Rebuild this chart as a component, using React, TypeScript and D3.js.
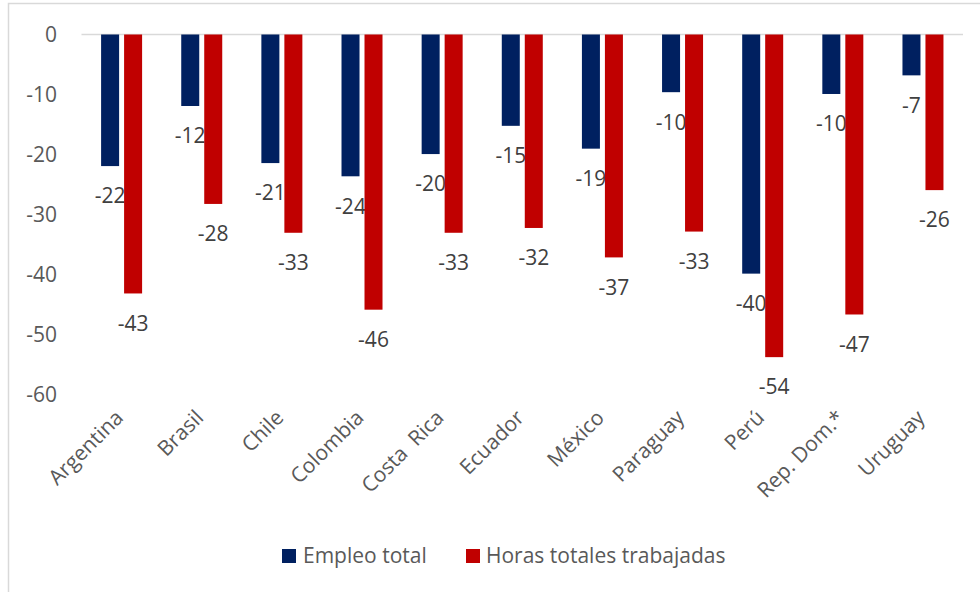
import React from "react";
import * as d3 from "d3";

const categories = ["Argentina", "Brasil", "Chile", "Colombia", "Costa  Rica", "Ecuador", "México", "Paraguay", "Perú", "Rep. Dom.*", "Uruguay"];
const seriesNames = ["Empleo total", "Horas totales trabajadas"];
const empleoTotal = [-21.9, -11.9, -21.4, -23.6, -19.9, -15.2, -19.0, -9.6, -39.8, -9.9, -6.8];
const horasTotales = [-43.1, -28.2, -33.0, -45.8, -33.0, -32.2, -37.1, -32.8, -53.7, -46.6, -25.9];
const yTicks = [0, -10, -20, -30, -40, -50, -60];
const colors = ["#002060", "#C00000"];

const W = 980;
const H = 592;
const FONT = "'Open Sans', 'Liberation Sans', sans-serif";

const locale = d3.formatLocale({ decimal: ".", thousands: ",", grouping: [3], currency: ["", ""], minus: "-" });
const fmt = locale.format(".0f");

export default function App() {
  const y = d3.scaleLinear().domain([0, -60]).range([34.5, 395]);
  const x0 = d3.scaleBand<string>().domain(categories).range([81.5, 963]).paddingInner(0).paddingOuter(0);
  const x1 = d3.scaleBand<string>().domain(seriesNames).range([19.6, 60.6]).paddingInner(0.217).paddingOuter(0);
  const series = [empleoTotal, horasTotales];

  return (
    <svg width={W} height={H} style={{ position: "absolute", left: 0, top: 0, fontFamily: FONT }}>
      <rect x={0} y={0} width={W} height={H} fill="#fff" />
      <rect x={8.5} y={3.5} width={W + 20} height={H + 20} fill="none" stroke="#D9D9D9" strokeWidth={1.5} />
      {yTicks.map((t) => (
        <text key={t} x={57} y={y(t)} dy="0.35em" textAnchor="end" fontSize={21} fill="#595959">
          {fmt(t)}
        </text>
      ))}
      <line x1={x0.range()[0]} x2={x0.range()[1]} y1={y(0)} y2={y(0)} stroke="#D9D9D9" strokeWidth={1.5} />
      {categories.map((c, i) => (
        <g key={c} transform={`translate(${x0(c)},0)`}>
          {series.map((s, j) => {
            const v = s[i];
            const bx = x1(seriesNames[j])!;
            const bw = x1.bandwidth();
            return (
              <g key={j}>
                <rect x={bx} y={y(0)} width={bw} height={y(v) - y(0)} fill={colors[j]} />
                <text x={bx + bw / 2} y={y(v) + 30} dy="0.35em" textAnchor="middle" fontSize={21} fill="#404040">
                  {fmt(v)}
                </text>
              </g>
            );
          })}
        </g>
      ))}
      {categories.map((c) => {
        const cx = x0(c)! + x0.bandwidth() / 2 + 3;
        const cy = 419;
        return (
          <text key={c} transform={`translate(${cx},${cy}) rotate(-45)`} textAnchor="end" fontSize={21} fill="#595959" style={{ whiteSpace: "pre" }}>
            {c}
          </text>
        );
      })}
      <g>
        <rect x={282} y={549} width={14} height={14} fill={colors[0]} />
        <text x={303} y={556} dy="0.35em" fontSize={21} fill="#595959">{seriesNames[0]}</text>
        <rect x={466} y={549} width={14} height={14} fill={colors[1]} />
        <text x={486} y={556} dy="0.35em" fontSize={21} fill="#595959">{seriesNames[1]}</text>
      </g>
    </svg>
  );
}
